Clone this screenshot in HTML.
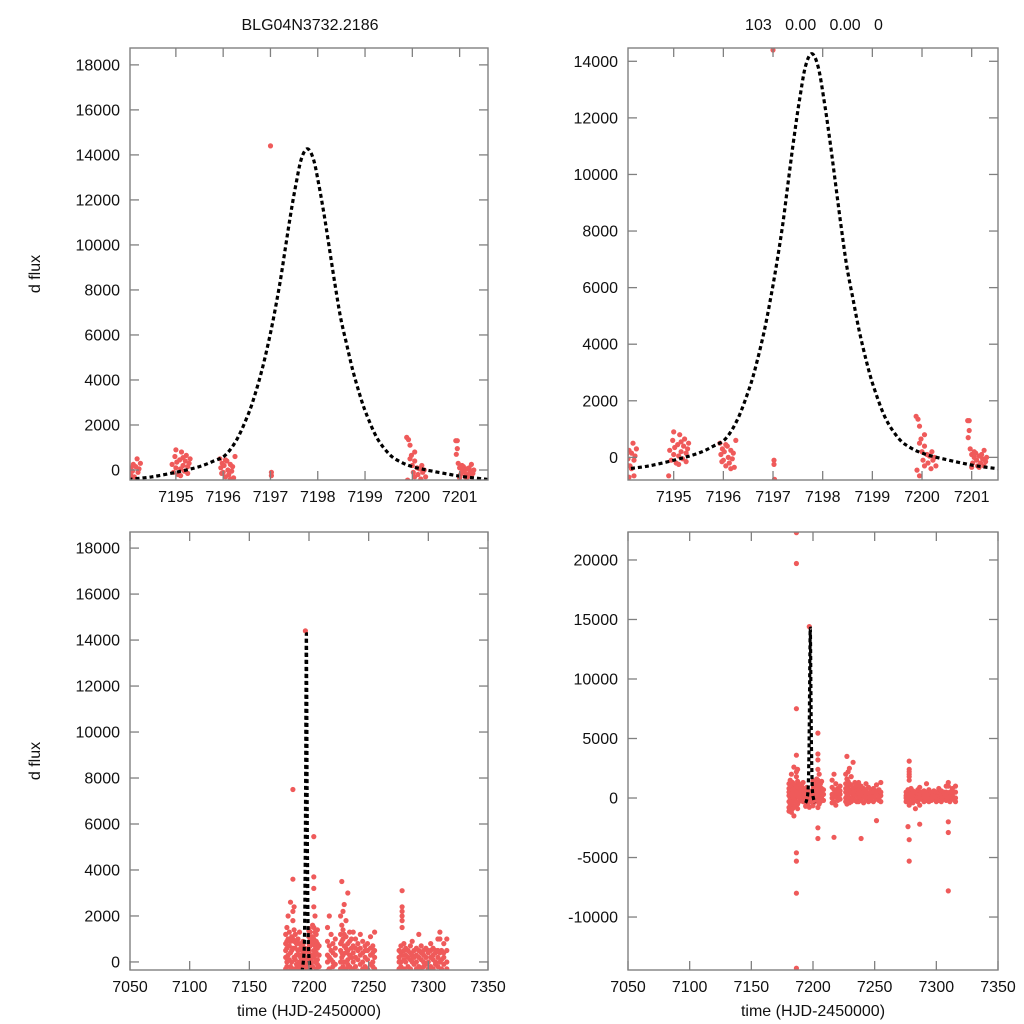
<!DOCTYPE html>
<html><head><meta charset="utf-8"><style>
html,body{margin:0;padding:0;background:#fff;overflow:hidden;width:1024px;height:1024px;}
svg{display:block;font-family:"Liberation Sans",Arial,sans-serif;}
</style></head><body>
<svg id="c" width="1024" height="1024" viewBox="0 0 1024 1024"></svg>
<script>
// ---- data ----
const modelT = [7194.0,7194.5,7195.05,7195.5,7195.8,7196.05,7196.3,7196.54,7196.68,7196.82,7196.95,7197.07,7197.2,7197.32,7197.43,7197.53,7197.65,7197.78,7197.91,7198.03,7198.13,7198.24,7198.36,7198.48,7198.61,7198.74,7198.88,7199.02,7199.26,7199.53,7199.76,7200.0,7200.3,7200.8,7201.1,7201.6];
const modelF = [-420,-300,-80,150,400,667,1400,2530,3400,4440,5600,6810,8300,9930,11400,12590,13800,14270,13800,12590,11400,9930,8300,6810,5600,4440,3400,2530,1400,667,350,150,0,-200,-300,-420];

const obsT = [7194.02,7194.05,7194.08,7194.1,7194.12,7194.15,7194.18,7194.2,7194.22,7194.25,7194.05,7194.15,7194.1,7194.2,
7194.92,7194.95,7194.98,7195.0,7195.02,7195.05,7195.08,7195.1,7195.12,7195.15,7195.18,7195.2,7195.22,7195.25,7195.28,7195.3,7195.1,7195.0,7194.9,7195.15,7195.25,
7195.93,7195.95,7195.98,7196.0,7196.02,7196.05,7196.08,7196.1,7196.12,7196.15,7196.18,7196.2,7196.22,7196.25,7196.05,7195.97,7196.15,
7197.0,7197.02,7197.02,7197.03,
7199.88,7199.92,7199.95,7199.95,7199.98,7200.0,7200.02,7200.05,7200.05,7200.1,7200.12,7200.15,7200.18,7200.2,7200.22,7200.25,7200.28,7199.9,7199.95,7200.05,
7200.92,7200.95,7200.95,7200.93,7200.97,7201.0,7201.02,7201.05,7201.08,7201.1,7201.12,7201.15,7201.18,7201.2,7201.22,7201.25,7201.28,7201.3,7201.0,7201.15,7201.05,7201.25];
const obsF = [-150,100,-50,250,-300,150,500,-100,50,300,-250,-400,-700,-650,
250,-100,600,100,350,-200,450,50,800,200,-50,400,650,150,300,500,-250,900,-650,550,-150,
500,100,300,-100,200,-300,400,0,-200,250,-50,150,-350,600,450,-150,-400,
14400,-100,-250,-780,
1450,1350,1100,500,650,200,-100,400,-300,100,-200,50,-400,200,-100,0,-300,-450,-650,800,
1300,1300,950,700,300,100,-200,0,150,-100,-300,50,-200,100,-50,250,-150,0,-350,-350,200,-300];

const seasonT = [7180.5,7181.5,7182.5,7183.5,7184.5,7185.5,7186.5,7187.5,7188.5,7189.5,
7190.8,7192,7193,7203,7204,7205,7206,7207,7208.5,
7215.5,7217,7218.5,7220,7222,
7226.5,7227.5,7228.5,7229.5,7231,7232.5,7234,7235.5,
7237,7239,7241,7243,7245,7247,7249,7251.5,7253.5,7255,
7275.5,7277,7278,7279.5,7281,7283,7285,7286.5,7288,7290,7292,7294,7296,7298,7300,7302,7304,7306,7308,7309.7,7311,7313,7315.5];
const seasonF = [
[200,-300,800,1200,-800,500,-1100],[0,600,-500,1500,900,-200],[300,-600,1000,2000,-1200],[100,700,-400,1300,-900],[400,-200,900,2600,-1500],[0,500,-700,1100],
[7500,3600,19700,22300,-4600,-5300,-8000,-14300,2200,1800,600,-300,1000],[200,-500,900,1400,2400,-900],[100,600,-300,1200],[300,-100,800],
[500,-200,1000],[300,800,-300,1300,0],[200,-100,600],[800,300,-200,1600,1100],[500,1000,5450,3700,3200,-2500,-3400,200,1500,2400,-800],[0,700,1300,-500,300,2000],[400,-300,900,1200],[100,600,-100,1400,800],[300,-200,700],
[300,-400,900,1500,0],[200,-300,700,2000,-3300],[500,100,-600,1200],[0,400,-200,800],[300,-100,600,1000],
[500,1200,-300,2000,0,800],[200,900,-500,1600,3500,400],[1000,300,-200,1400,2200],[0,700,-400,1200,2500],[400,1100,-300,600,1800],[100,800,-100,500,3000],[300,-200,900,1300],[200,600,-300,1000],
[0,400,-300,700,1300],[200,-200,600,-3400,1000],[100,500,-400,800],[300,-100,600,1200],[0,400,-300,900],[200,-200,700,500],[100,500,-300,800],[300,-100,600,-1900,1100],[0,400,-200,700],[200,-300,500,1300],
[200,-300,500,0],[0,400,-200,700,-2400],[3100,2400,2200,2000,1800,1500,-3500,-5300,-600,300],[100,500,-300,800],[0,300,-400,600],[200,-200,500,-900],[100,400,-300,700],[0,-2200,300,-600,900],[200,-100,500],[0,300,-300,600],[200,-200,500,1200],[100,400,-300,700],[0,300,-200,500],[200,-100,600],[0,400,-300,500],[200,-200,500,800],[100,300,-300,600],[0,400,-100,500],[200,-200,500,1000],[-7800,-2900,-2000,1300,1000,0,400],[100,-300,500],[200,-100,400,800],[0,500,-300,1000]];

const ticksTopL = [0,2000,4000,6000,8000,10000,12000,14000,16000,18000];
const ticksTopR = [0,2000,4000,6000,8000,10000,12000,14000];
const ticksBotR = [-10000,-5000,0,5000,10000,15000,20000];
const xTicksTop = [7195,7196,7197,7198,7199,7200,7201];
const xTicksBot = [7050,7100,7150,7200,7250,7300,7350];

// ---- drawing ----
const NS='http://www.w3.org/2000/svg';
const svg=document.getElementById('c');
function mk(tag,attrs,parent){const e=document.createElementNS(NS,tag);for(const k in attrs)e.setAttribute(k,attrs[k]);(parent||svg).appendChild(e);return e;}

function smoothPath(P){
  let d='M'+P[0][0].toFixed(1)+','+P[0][1].toFixed(1);
  for(let i=0;i<P.length-1;i++){
    const p0=P[Math.max(i-1,0)],p1=P[i],p2=P[i+1],p3=P[Math.min(i+2,P.length-1)];
    const c1x=p1[0]+(p2[0]-p0[0])/6,c1y=p1[1]+(p2[1]-p0[1])/6;
    const c2x=p2[0]-(p3[0]-p1[0])/6,c2y=p2[1]-(p3[1]-p1[1])/6;
    d+=' C'+c1x.toFixed(1)+','+c1y.toFixed(1)+' '+c2x.toFixed(1)+','+c2y.toFixed(1)+' '+p2[0].toFixed(1)+','+p2[1].toFixed(1);
  }
  return d;
}

function panel(id,x0,x1,y0,y1,tmin,tmax,fmin,fmax,yt,xt,xlabelTitle,yTitle){
  const sx=t=>x0+(t-tmin)/(tmax-tmin)*(x1-x0);
  const sy=f=>y1-(f-fmin)/(fmax-fmin)*(y1-y0);
  const g=mk('g',{});
  
  
  const defs=mk('defs',{},g);
  const cp=mk('clipPath',{id:id+'-clip'},defs);
  mk('rect',{x:x0,y:y0,width:x1-x0,height:y1-y0},cp);
  const pts=mk('g',{'clip-path':'url(#'+id+'-clip)',fill:'#ef5a5a'},g);
  
  
  const addPt=(t,f)=>{const c=mk('circle',{cx:sx(t).toFixed(1),cy:sy(f).toFixed(1),r:2.6},pts);
    
    };
  for(let i=0;i<obsT.length;i++)addPt(obsT[i],obsF[i]);
  if(xt===xTicksBot){
    for(let i=0;i<seasonT.length;i++)for(const f of seasonF[i])addPt(seasonT[i],f);
  }
  const P=modelT.map((t,i)=>[sx(t),sy(modelF[i])]);
  const m=mk('path',{d:smoothPath(P),fill:'none',stroke:'#000','stroke-width':3.2,'stroke-dasharray':'4,3','clip-path':'url(#'+id+'-clip)'},g);
  
  
  const fr=mk('rect',{x:x0,y:y0,width:x1-x0,height:y1-y0,fill:'none',stroke:'#808080','stroke-width':1.4},g);
  
  
  for(const v of yt){const y=sy(v);
    mk('line',{x1:x0,x2:x0+9,y1:y,y2:y,stroke:'#808080','stroke-width':1.3},g);
    mk('line',{x1:x1,x2:x1-9,y1:y,y2:y,stroke:'#808080','stroke-width':1.3},g);
    const tx=mk('text',{x:x0-10,y:y+5.5,'text-anchor':'end','font-size':16,fill:'#111'},g);tx.textContent=v;
    
    }
  for(const v of xt){const x=sx(v);
    mk('line',{x1:x,x2:x,y1:y1,y2:y1-9,stroke:'#808080','stroke-width':1.3},g);
    mk('line',{x1:x,x2:x,y1:y0,y2:y0+9,stroke:'#808080','stroke-width':1.3},g);
    const tx=mk('text',{x:x,y:y1+22,'text-anchor':'middle','font-size':16,fill:'#111'},g);tx.textContent=v;
    
    }
  if(xlabelTitle){const tx=mk('text',{x:(x0+x1)/2,y:y1+46,'text-anchor':'middle','font-size':16,fill:'#111'},g);tx.textContent=xlabelTitle;
    
    }
  if(yTitle){const cy=(y0+y1)/2+10;const tx=mk('text',{x:40,y:cy,'text-anchor':'middle','font-size':16,fill:'#111',transform:'rotate(-90 40 '+cy+')'},g);tx.textContent=yTitle;
    
    }
}
panel('top-left',130,488,48,480,7194.03,7201.6,-444,18750,ticksTopL,xTicksTop,null,'d flux');
panel('top-right',628,998,48,480,7194.08,7201.53,-800,14470,ticksTopR,xTicksTop,null,null);
panel('bottom-left',130,488,532,970,7050,7350,-350,18700,ticksTopL,xTicksBot,'time (HJD-2450000)','d flux');
panel('bottom-right',628,998,532,970,7050,7350,-14450,22350,ticksBotR,xTicksBot,'time (HJD-2450000)',null);

const t1=mk('text',{x:310,y:30,'text-anchor':'middle','font-size':16,fill:'#111'});t1.textContent='BLG04N3732.2186';


const t2=mk('text',{x:814,y:30,'text-anchor':'middle','font-size':16,fill:'#111',style:'white-space:pre'});t2.textContent='103   0.00   0.00   0';


</script>
</body></html>
